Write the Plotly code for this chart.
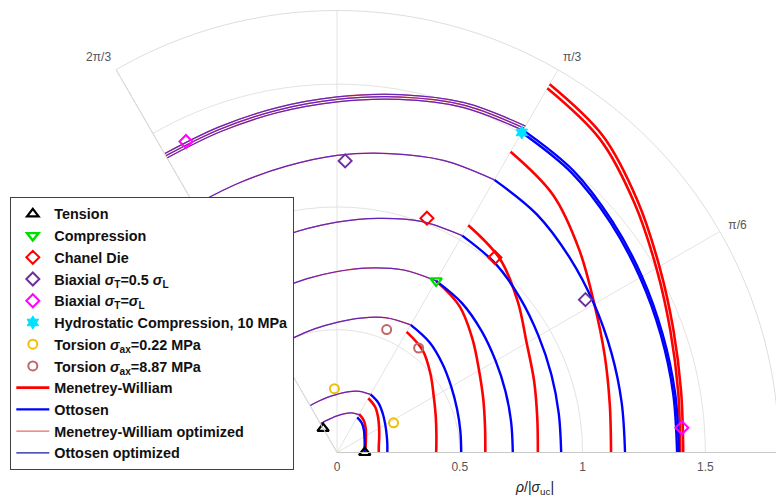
import plotly.graph_objects as go

# ---------------- data ----------------
THETA_A = [0, 10, 20, 30, 40, 50, 60]          # degrees, thick-curve sector
THETA_B = [60, 70, 80, 90, 100, 110, 120]      # degrees, optimized-curve sector

MW_R = [
    [0.115, 0.118, 0.125, 0.136, 0.153, 0.170, 0.180],
    [0.170, 0.173, 0.183, 0.198, 0.219, 0.242, 0.255],
    [0.404, 0.411, 0.428, 0.455, 0.497, 0.543, 0.567],
    [0.604, 0.612, 0.634, 0.668, 0.720, 0.777, 0.807],
    [0.818, 0.828, 0.854, 0.892, 0.960, 1.031, 1.069],
    [1.116, 1.128, 1.160, 1.210, 1.287, 1.369, 1.414],
    [1.398, 1.411, 1.445, 1.502, 1.581, 1.666, 1.713],
    [1.410, 1.423, 1.458, 1.516, 1.597, 1.684, 1.732],
]
OT_R = [
    [0.112, 0.114, 0.120, 0.129, 0.143, 0.157, 0.165],
    [0.205, 0.208, 0.215, 0.227, 0.244, 0.263, 0.273],
    [0.506, 0.510, 0.520, 0.537, 0.561, 0.586, 0.600],
    [0.716, 0.720, 0.730, 0.746, 0.769, 0.793, 0.807],
    [0.913, 0.917, 0.929, 0.948, 0.975, 1.004, 1.020],
    [1.173, 1.177, 1.189, 1.209, 1.236, 1.266, 1.282],
    [1.385, 1.390, 1.403, 1.425, 1.455, 1.487, 1.505],
    [1.393, 1.398, 1.411, 1.434, 1.464, 1.498, 1.516],
]
OPT_R = [
    [0.178, 0.172, 0.160, 0.149, 0.141, 0.137, 0.135],
    [0.273, 0.265, 0.251, 0.237, 0.228, 0.222, 0.220],
    [0.600, 0.584, 0.556, 0.530, 0.512, 0.500, 0.496],
    [0.807, 0.791, 0.763, 0.737, 0.718, 0.706, 0.702],
    [1.020, 1.002, 0.968, 0.938, 0.915, 0.902, 0.897],
    [1.282, 1.266, 1.236, 1.210, 1.184, 1.168, 1.163],
    [1.515, 1.496, 1.460, 1.428, 1.405, 1.390, 1.385],
    [1.525, 1.506, 1.470, 1.438, 1.415, 1.400, 1.395],
    [1.535, 1.516, 1.480, 1.448, 1.425, 1.410, 1.405],
]

TENSION_R, TENSION_T = [0.113, 0.113], [0, 120]
COMP_R, COMP_T = [0.807], [60]
CHANEL_R, CHANEL_T = [1.022, 1.022], [51, 69]
BIAX05_R, BIAX05_T = [1.188, 1.188], [31.6, 88.4]
BIAXEQ_R, BIAXEQ_T = [1.408, 1.408], [4.1, 115.9]
HYDRO_R, HYDRO_T = [1.505], [60]
TOR022_R, TOR022_T = [0.26, 0.26], [27.7, 92.3]
TOR887_R, TOR887_T = [0.54, 0.54], [52, 68]

RMAX = 1.8
R_TICKS = [0, 0.5, 1, 1.5]
R_TICKTEXT = ["0", "0.5", "1", "1.5"]
A_TICKS = [0, 30, 60, 90, 120]
A_TICKTEXT = ["", "π/6", "π/3", "", "2π/3"]


def join(curves, thetas):
    rr, tt = [], []
    for c in curves:
        rr += list(c) + [None]
        tt += list(thetas) + [None]
    return rr, tt


fig = go.Figure()

# darker sector edge at 2π/3
fig.add_trace(go.Scatterpolar(r=[0, RMAX], theta=[120, 120], mode="lines",
                              line=dict(color="#b4b4b4", width=1),
                              showlegend=False, hoverinfo="skip"))

r, t = join(MW_R, THETA_A)
fig.add_trace(go.Scatterpolar(r=r, theta=t, mode="lines", name="Menetrey-William",
                              line=dict(color="#ff0000", width=2.6, shape="spline"),
                              legendrank=9))
r, t = join(OT_R, THETA_A)
fig.add_trace(go.Scatterpolar(r=r, theta=t, mode="lines", name="Ottosen",
                              line=dict(color="#0000ff", width=2.4, shape="spline"),
                              legendrank=10))
r, t = join(OPT_R, THETA_B)
fig.add_trace(go.Scatterpolar(r=r, theta=t, mode="lines", name="Menetrey-William optimized",
                              line=dict(color="#ff4040", width=1.3, shape="spline"),
                              showlegend=False, legendgroup="mwo"))
fig.add_trace(go.Scatterpolar(r=r, theta=t, mode="lines", name="Ottosen optimized",
                              line=dict(color="rgba(40,30,235,0.74)", width=1.2, shape="spline"),
                              showlegend=False, legendgroup="oto"))
# legend samples for the optimized families
fig.add_trace(go.Scatterpolar(r=[None], theta=[None], mode="lines",
                              name="Menetrey-William optimized",
                              line=dict(color="#e86a6a", width=1.3),
                              legendrank=11, legendgroup="mwo"))
fig.add_trace(go.Scatterpolar(r=[None], theta=[None], mode="lines", name="Ottosen optimized",
                              line=dict(color="#1a1a9a", width=1.3),
                              legendrank=12, legendgroup="oto"))


def markers(rv, tv, name, symbol, color, size, rank, lw=2):
    fig.add_trace(go.Scatterpolar(
        r=rv, theta=tv, mode="markers", name=name, legendrank=rank,
        marker=dict(symbol=symbol, size=size, color=color,
                    line=dict(color=color, width=lw))))


markers(TENSION_R, TENSION_T, "Tension", "triangle-up-open", "#000000", 10, 1, 2.2)
markers(COMP_R, COMP_T, "Compression", "triangle-down-open", "#00dd00", 10, 2, 2.4)
markers(CHANEL_R, CHANEL_T, "Chanel Die", "diamond-open", "#ff0000", 10, 3, 2)
markers(BIAX05_R, BIAX05_T, "Biaxial <i>σ</i><sub>T</sub>=0.5 <i>σ</i><sub>L</sub>",
        "diamond-open", "#7030a0", 10, 4, 2)
markers(BIAXEQ_R, BIAXEQ_T, "Biaxial <i>σ</i><sub>T</sub>=<i>σ</i><sub>L</sub>",
        "diamond-open", "#ff00ff", 10, 5, 2)
markers(HYDRO_R, HYDRO_T, "Hydrostatic Compression, 10 MPa", "hexagram", "#00e0ff", 10, 6, 1)
markers(TOR022_R, TOR022_T, "Torsion <i>σ</i><sub>ax</sub>=0.22 MPa", "circle-open", "#f0c000", 9, 7, 2)
markers(TOR887_R, TOR887_T, "Torsion <i>σ</i><sub>ax</sub>=8.87 MPa", "circle-open", "#c06868", 9, 8, 2)

# the page body adds an 8 px offset; pixel targets below are page coordinates
OFF = 8
W, H = 784, 504
ML, MT = 114 - OFF, 10 - OFF
PW, PH = 665, 443
MR, MB = W - ML - PW, H - MT - PH


def px(xp):
    return (xp - OFF - ML) / PW


def py(yp):
    return (MT + PH - (yp - OFF)) / PH


fig.update_layout(
    width=W, height=H,
    margin=dict(l=ML, r=MR, t=MT, b=MB),
    paper_bgcolor="white",
    font=dict(family="Arial, Liberation Sans, sans-serif", size=12, color="#222222"),
    polar=dict(
        sector=[0, 120],
        bgcolor="white",
        domain=dict(x=[0, 1], y=[0, 1]),
        angularaxis=dict(
            direction="counterclockwise", rotation=0,
            tickmode="array", tickvals=A_TICKS, ticktext=A_TICKTEXT,
            ticks="outside", ticklen=7, tickcolor="rgba(0,0,0,0)",
            showline=True, linecolor="#dedede", linewidth=1,
            gridcolor="#e3e3e3", gridwidth=1,
            tickfont=dict(size=12, color="#555555"),
        ),
        radialaxis=dict(
            range=[0, RMAX], angle=0, side="clockwise",
            tickmode="array", tickvals=R_TICKS, ticktext=R_TICKTEXT,
            ticks="outside", ticklen=4, tickcolor="rgba(0,0,0,0)",
            showline=True, linecolor="#c8c8c8", linewidth=1,
            gridcolor="#e3e3e3", gridwidth=1, tickangle=0,
            tickfont=dict(size=12, color="#555555"),
        ),
    ),
    legend=dict(
        x=px(8), y=py(197), xanchor="left", yanchor="top",
        bgcolor="white", bordercolor="#404040", borderwidth=1,
        font=dict(family="Arial, Liberation Sans, sans-serif", size=14.4,
                  color="#111111", weight="bold"),
        tracegroupgap=0, itemwidth=33,
    ),
    annotations=[dict(
        text="<i>ρ</i>/|<i>σ</i><sub>uc</sub>|", xref="paper", yref="paper",
        x=px(534), y=py(488), showarrow=False,
        xanchor="center", yanchor="middle",
        font=dict(size=14, color="#222222"),
    )],
)

fig.write_html("out.html")
